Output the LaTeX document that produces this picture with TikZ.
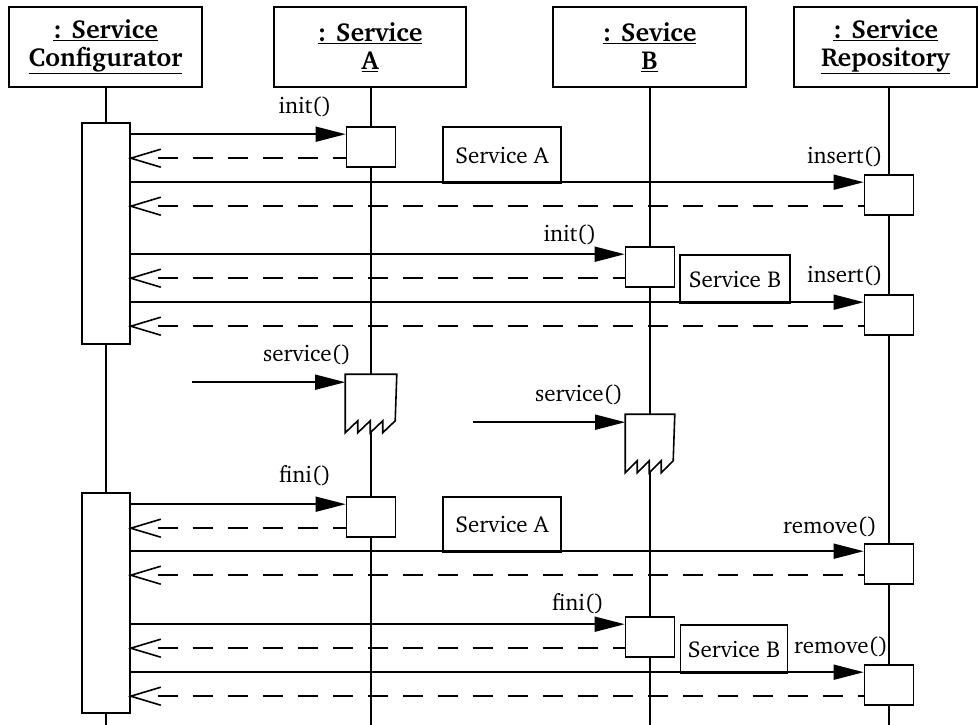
\documentclass[tikz,border=0pt]{standalone}
\usepackage[T1]{fontenc}
\usepackage{charter}
\usetikzlibrary{arrows.meta}
\newcommand{\retmsg}[2]{%
  \draw[retline] (#2.east |- #1) ++(27,0) -- (#1);
  \draw[line join=miter] (#2.east |- #1) ++(30,-9) -- (#2.east |- #1) -- ++(30,9);}
\begin{document}
\begin{tikzpicture}[x=1pt,y=-1pt, line width=1.6pt,
  obj/.style={draw, fill=white, minimum height=80pt, inner sep=0pt, align=center,
    font=\fontsize{26}{28}\selectfont\bfseries},
  act/.style={draw, fill=white, minimum width=49pt, minimum height=40pt, inner sep=0pt},
  svc/.style={minimum width=50pt, minimum height=57pt, inner sep=0pt},
  lbl/.style={draw, fill=white, inner sep=0pt, font=\fontsize{23}{26}\selectfont},
  txt/.style={inner sep=0pt, font=\fontsize{23}{26}\selectfont},
  msg/.style={-{Triangle[length=30pt,width=15pt]}},
  retline/.style={dash pattern=on 20pt off 15pt},
]
\useasboundingbox (0,0) rectangle (978,725);
\coordinate (bot) at (0,725);

% headers
\node[obj, minimum width=193pt] (hC) at (105.5,47) {\underline{: Service}\\\underline{Configurator}};
\node[obj, minimum width=192pt] (hA) at (370,47) {\underline{: Service}\\\underline{A}};
\node[obj, minimum width=193pt] (hB) at (649.5,47) {\underline{: Sevice}\\\underline{B}};
\node[obj, minimum width=183pt] (hR) at (885.5,47) {\underline{: Service}\\\underline{Repository}};

% lifeline anchors
\coordinate (xC) at (106,0);
\coordinate (xA) at (371,0);
\coordinate (xB) at (650,0);
\coordinate (xR) at (889,0);

\draw (hC.south -| xC) -- (xC |- bot);
\draw (hA.south -| xA) -- (xA |- bot);
\draw (hB.south -| xB) -- (xB |- bot);
\draw (hR.south -| xR) -- (xR |- bot);

% configurator activations
\node[act, minimum width=48pt, minimum height=221pt] (ca1) at (106,233.5) {};
\node[act, minimum width=48pt, minimum height=220pt] (ca2) at (106,603) {};

% activation boxes
\node[act] (a1) at (371,147) {};
\node[act] (r1) at (889,195) {};
\node[act] (b1) at (650,267) {};
\node[act] (r2) at (889,315) {};
\node[act] (a2) at (371,517) {};
\node[act] (r3) at (889,564) {};
\node[act] (b2) at (650,637) {};
\node[act] (r4) at (889,685) {};

% service boxes with torn bottom
\node[svc] (sa) at (371,403.5) {};
\node[svc, minimum width=48pt] (sb) at (650,443.5) {};
\foreach \s/\dx in {sa/12.5,sb/12}{
  \path[fill=white, draw] (\s.north west) -- (\s.south west)
      -- ++(\dx,-12) -- ++(0,12) -- ++(\dx,-12) -- ++(0,12)
      -- ++(\dx,-12) -- ++(0,12) -- ++(\dx,-12) -- (\s.north east) -- cycle;
}

% label boxes
\node[lbl, minimum width=118pt, minimum height=56pt] (lA1) at (502,155) {Service A};
\node[lbl, minimum width=110pt, minimum height=48pt] (lB1) at (735,279) {Service B};
\node[lbl, minimum width=118pt, minimum height=55pt] (lA2) at (502,524.5) {Service A};
\node[lbl, minimum width=107pt, minimum height=48pt] (lB2) at (734,649) {Service B};

% message coordinates
\foreach \b in {a1,r1,b1,r2,a2,r3,b2,r4}{
  \path (\b.north west) ++(0,8) coordinate (m-\b);
  \path (\b.north west) ++(0,32) coordinate (n-\b);
}
\path (sa.north west) ++(0,8) coordinate (m-sa);
\path (sb.north west) ++(0,8) coordinate (m-sb);
\coordinate (fsa) at (192,0);
\coordinate (fsb) at (473,0);

\foreach \b in {a1,r1,b1,r2}{
  \draw[msg] (ca1.east |- m-\b) -- (m-\b);
  \retmsg{n-\b}{ca1}
}
\foreach \b in {a2,r3,b2,r4}{
  \draw[msg] (ca2.east |- m-\b) -- (m-\b);
  \retmsg{n-\b}{ca2}
}
\draw[msg] (fsa |- m-sa) -- (m-sa);
\draw[msg] (fsb |- m-sb) -- (m-sb);

% labels
\node[txt] (t1) at (305,107) {init()};
\node[txt] (t2) at (845,157) {insert()};
\node[txt] (t3) at (570,235) {init()};
\node[txt] (t4) at (845,276) {insert()};
\node[txt] (t5) at (307,355) {service()};
\node[txt] (t6) at (579,395) {service()};
\node[txt] (t7) at (305,476) {fini()};
\node[txt] (t8) at (830,527) {remove()};
\node[txt] (t9) at (578,604) {fini()};
\node[txt] (t10) at (841,647) {remove()};
\end{tikzpicture}
\end{document}
